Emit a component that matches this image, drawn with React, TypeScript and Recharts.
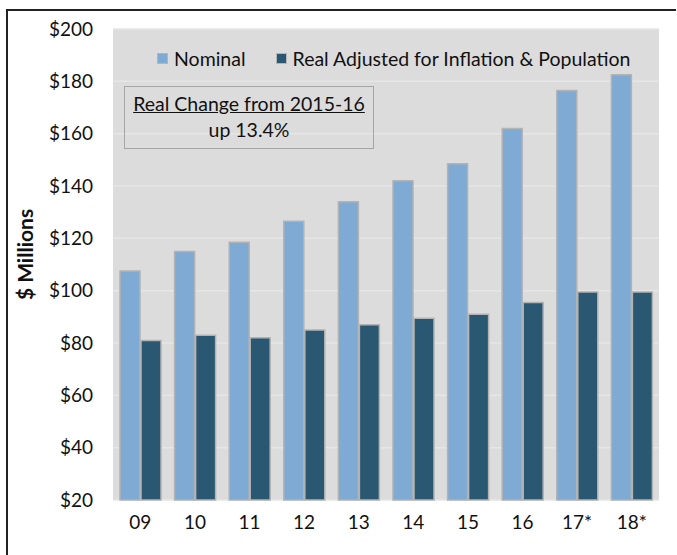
import { BarChart, Bar, XAxis, YAxis, CartesianGrid } from 'recharts';

const years = ['09', '10', '11', '12', '13', '14', '15', '16', '17*', '18*'];
const nominal = [107.5, 115, 118.5, 126.5, 134, 142, 148.5, 162, 176.5, 182.5];
const realAdjusted = [81, 83, 82, 85, 87, 89.5, 91, 95.5, 99.5, 99.5];
const yTicks = [20, 40, 60, 80, 100, 120, 140, 160, 180, 200];

const seriesNames = ['Nominal', 'Real Adjusted for Inflation & Population'];
const seriesColors = ['#7eaad4', '#2a5872'];

const data = years.map((year, i) => ({
	year,
	nominal: nominal[i],
	real: realAdjusted[i],
}));

const FONT = 'Lato, "Open Sans", sans-serif';

export default function App() {
	return (
		<div
			style={{
				position: 'absolute',
				left: 0,
				top: 0,
				width: 677,
				height: 555,
				background: '#fff',
				overflow: 'hidden',
			}}
		>
			<div
				style={{
					position: 'absolute',
					left: 6,
					top: 9,
					width: 668,
					height: 560,
					borderTop: '2px solid #222',
					borderLeft: '2px solid #222',
				}}
			/>
			<BarChart
				width={677}
				height={555}
				data={data}
				margin={{ top: 29, right: 18, bottom: 0, left: 0 }}
				barSize={20}
				barGap={1}
				style={{ position: 'absolute', left: 0, top: 0 }}
			>
				<CartesianGrid vertical={false} fill="#dcdcdc" stroke="#e6e6e6" strokeWidth={1.5} />
				<XAxis
					dataKey="year"
					axisLine={false}
					tickLine={false}
					tickMargin={10}
					height={55}
					tick={{ fill: '#111', fontSize: 19, fontFamily: FONT }}
				/>
				<YAxis
					domain={[20, 200]}
					ticks={yTicks}
					width={113}
					axisLine={false}
					tickLine={false}
					tickMargin={14}
					tickFormatter={(v: number) => `$${v}`}
					tick={{ fill: '#111', fontSize: 19, fontFamily: FONT }}
					label={{
						value: '$ Millions',
						angle: -90,
						position: 'center',
						dx: -31,
						dy: -10,
						style: { fontFamily: FONT, fontSize: 21, fontWeight: 700, fill: '#111' },
					}}
				/>
				<Bar
					dataKey="nominal"
					name={seriesNames[0]}
					fill={seriesColors[0]}
					stroke="#b3b3b3"
					strokeWidth={1.5}
					isAnimationActive={false}
				/>
				<Bar
					dataKey="real"
					name={seriesNames[1]}
					fill={seriesColors[1]}
					stroke="#b3b3b3"
					strokeWidth={1.5}
					isAnimationActive={false}
				/>
			</BarChart>
			<div
				style={{
					position: 'absolute',
					left: 157,
					top: 47,
					display: 'flex',
					fontFamily: FONT,
					fontSize: 19.5,
					color: '#111',
					whiteSpace: 'nowrap',
				}}
			>
				{seriesNames.map((name, i) => (
					<div
						key={name}
						style={{ display: 'flex', alignItems: 'center', marginRight: i === 0 ? 30 : 0 }}
					>
						<span
							style={{
								width: 9,
								height: 9,
								background: seriesColors[i],
								border: '1px solid #b5b5b5',
								marginRight: 6,
							}}
						/>
						<span>{name}</span>
					</div>
				))}
			</div>
			<div
				style={{
					position: 'absolute',
					left: 124,
					top: 86,
					width: 250,
					height: 63,
					border: '1.5px solid #a5a5a5',
					fontFamily: FONT,
					fontSize: 19.5,
					color: '#111',
					textAlign: 'center',
					lineHeight: '26px',
					paddingTop: 4,
					boxSizing: 'border-box',
				}}
			>
				<div style={{ textDecoration: 'underline' }}>Real Change from 2015-16</div>
				<div>up 13.4%</div>
			</div>
		</div>
	);
}
